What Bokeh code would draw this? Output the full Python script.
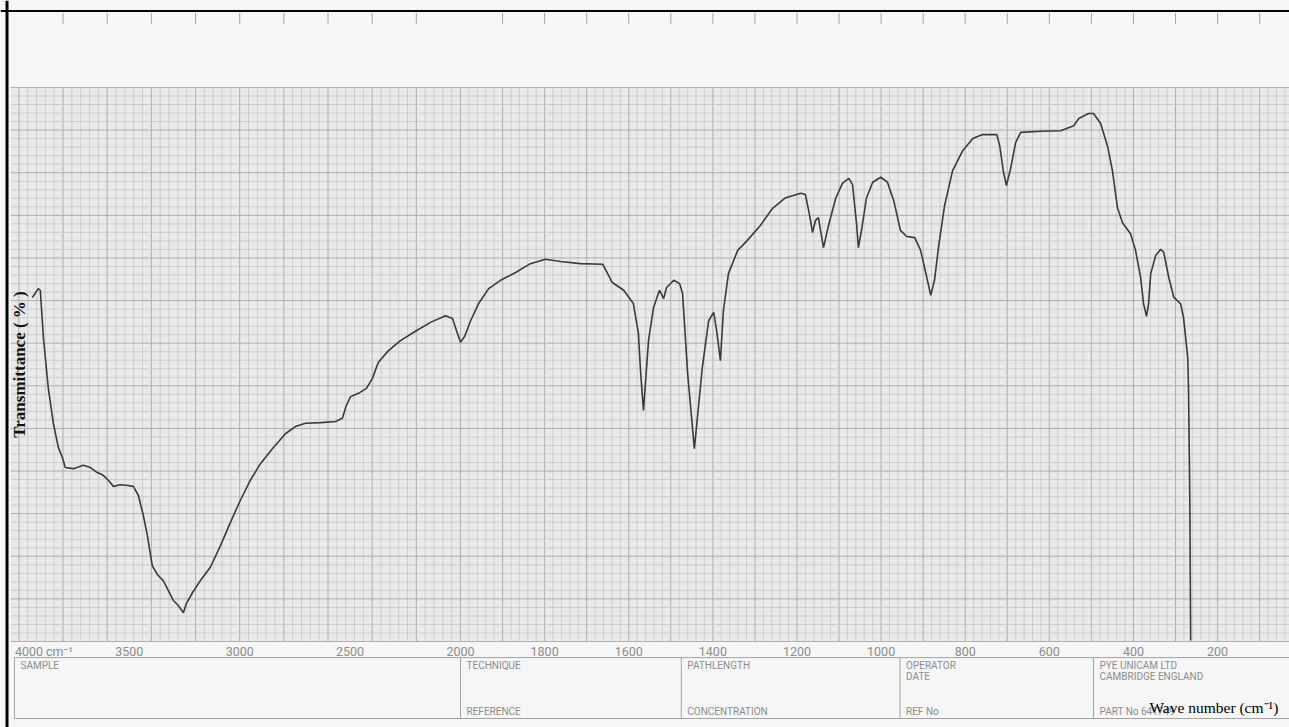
import numpy as np
from bokeh.plotting import figure
from bokeh.models import Range1d, Span
from bokeh.core.properties import value
from bokeh.embed import file_html
from bokeh.resources import INLINE

# ---------------- data ----------------
wavenumber = [3939, 3912, 3903, 3889, 3867, 3844, 3821, 3803, 3790, 3753,
              3708, 3676, 3645, 3618, 3595, 3572, 3541, 3513, 3482, 3459,
              3436, 3418, 3396, 3373, 3346, 3323, 3300, 3278, 3255, 3241,
              3214, 3178, 3133, 3087, 3042, 2997, 2952, 2906, 2852, 2793,
              2748, 2702, 2634, 2566, 2535, 2517, 2498, 2462, 2426, 2399,
              2372, 2326, 2272, 2204, 2136, 2068, 2036, 2018, 2000, 1990,
              1976, 1957, 1933, 1905, 1869, 1834, 1798, 1762, 1715, 1662,
              1639, 1612, 1589, 1577, 1572, 1565, 1553, 1541, 1527, 1517,
              1510, 1493, 1479, 1472, 1460, 1444, 1425, 1410, 1398, 1391,
              1382, 1375, 1363, 1341, 1318, 1287, 1258, 1227, 1191, 1180,
              1170, 1163, 1156, 1149, 1144, 1137, 1125, 1108, 1092, 1077,
              1068, 1058, 1054, 1046, 1035, 1020, 1001, 985, 970, 954,
              939, 920, 906, 894, 882, 873, 863, 849, 830, 806,
              782, 759, 725, 718, 709, 702, 692, 680, 668, 621,
              573, 542, 530, 507, 495, 478, 461, 450, 438, 426,
              407, 395, 383, 376, 369, 364, 359, 347, 335, 328,
              316, 304, 288, 281, 271, 269, 266, 264]
transmittance = [62.1, 63.7, 63.4, 54.9, 45.8, 39.4, 35.0, 33.2, 31.4, 31.2,
                 31.8, 31.4, 30.5, 30.0, 29.1, 28.0, 28.3, 28.2, 28.0, 26.4,
                 22.7, 19.1, 13.7, 12.1, 11.0, 9.2, 7.4, 6.5, 5.2, 6.9,
                 8.8, 11.0, 13.4, 17.3, 21.5, 25.5, 29.1, 32.1, 34.8, 37.5,
                 38.8, 39.4, 39.5, 39.7, 40.3, 42.6, 44.2, 44.8, 45.7, 47.5,
                 50.4, 52.5, 54.3, 56.0, 57.6, 58.8, 58.3, 56.1, 54.0, 55.1,
                 57.9, 61.0, 63.7, 65.2, 66.6, 68.2, 69.0, 68.6, 68.2, 68.1,
                 64.8, 63.4, 61.0, 55.6, 48.9, 41.7, 54.3, 60.3, 63.4, 61.9,
                 63.9, 65.2, 64.6, 62.8, 48.4, 34.8, 49.5, 57.9, 59.4, 56.1,
                 50.7, 59.7, 66.4, 70.6, 72.4, 75.1, 78.2, 80.1, 80.9, 80.7,
                 76.9, 73.8, 76.0, 76.5, 74.2, 71.1, 75.1, 80.0, 82.7, 83.6,
                 82.5, 75.1, 71.1, 74.5, 80.0, 82.9, 83.8, 82.9, 79.6, 74.2,
                 73.1, 72.9, 70.6, 66.6, 62.5, 65.2, 71.5, 78.7, 85.0, 88.6,
                 90.8, 91.5, 91.5, 89.5, 84.7, 82.3, 85.4, 90.1, 91.9, 92.1,
                 92.2, 93.1, 94.4, 95.3, 95.3, 93.5, 89.2, 85.0, 78.3, 75.6,
                 73.6, 70.6, 65.7, 61.0, 58.7, 61.0, 66.4, 69.7, 70.8, 70.2,
                 65.7, 62.1, 61.0, 58.5, 51.3, 45.3, 25.5, 0.2]

tick_values = [4000, 3500, 3000, 2500, 2000, 1800, 1600, 1400, 1200, 1000, 800, 600, 400, 200]
tick_labels = ["4000 cm\u207b\u00b9", "3500", "3000", "2500", "2000", "1800", "1600",
               "1400", "1200", "1000", "800", "600", "400", "200"]

# chart paper: 4000-2000 cm-1 is printed at a compressed scale
HI_FACTOR = 0.525
BREAK = 2000


def paper_x(wn):
    wn = np.asarray(wn, dtype=float)
    return np.where(wn >= BREAK, (4000 - wn) * HI_FACTOR,
                    (4000 - BREAK) * HI_FACTOR + (BREAK - wn))


SERIF = value("Liberation Serif")
SANS = value("Roboto")
GRAY_TXT = "#8c8c8c"

p = figure(width=1289, height=727,
           x_range=Range1d(-43.7, 3021), y_range=Range1d(-15.52, 115.70),
           x_axis_location=None, y_axis_location=None,
           output_backend="svg", toolbar_location=None, min_border=0,
           background_fill_color="#f6f6f6", border_fill_color="#f6f6f6")
p.grid.visible = False
p.outline_line_color = None

# grid area background
gx0 = float(paper_x(4038))
gx1 = float(paper_x(-40))
p.quad(left=gx0, right=gx1, bottom=0, top=100, fill_color="#e9e9ea", line_color=None)

# vertical grid lines
hi_lines = np.arange(2040, 4001, 40)
lo_lines = np.arange(0, 2001, 20)
v_all = np.concatenate([hi_lines, lo_lines])
major_mask = np.concatenate([hi_lines % 200 == 0, lo_lines % 100 == 0])
vx = paper_x(v_all)
p.segment(x0=vx[~major_mask], y0=0, x1=vx[~major_mask], y1=100,
          line_color="#c3c3c5", line_width=0.7)
p.segment(x0=vx[major_mask], y0=0, x1=vx[major_mask], y1=100,
          line_color="#a8a8aa", line_width=0.9)
# horizontal grid lines
h_all = np.linspace(0, 100, 66)
h_major = (np.arange(66) % 5 == 0)
p.segment(x0=gx0, y0=h_all[~h_major], x1=gx1, y1=h_all[~h_major],
          line_color="#c3c3c5", line_width=0.7)
p.segment(x0=gx0, y0=h_all[h_major], x1=gx1, y1=h_all[h_major],
          line_color="#a8a8aa", line_width=0.9)

# small marks at top of the paper
top_marks = np.concatenate([np.arange(2200, 4000, 200), np.arange(100, 2000, 100)])
tmx = paper_x(top_marks)
p.segment(x0=tmx, y0=111.4, x1=tmx, y1=113.5, line_color="#a6a6a6", line_width=1)

# the spectrum
p.line(x=paper_x(wavenumber), y=transmittance, line_color="#3a3a3a", line_width=1.6)

# wavenumber labels printed on the paper
tx = paper_x(tick_values)
p.text(x=tx[1:], y=-1.85, text=tick_labels[1:], text_align="center", text_baseline="middle",
       text_font=SANS, text_font_size="12.5px", text_color=GRAY_TXT)
p.text(x=[tx[0]], y=[-1.85], text=[tick_labels[0]], text_align="left", text_baseline="middle",
       x_offset=-4, text_font=SANS, text_font_size="12.5px", text_color=GRAY_TXT)

# printed form at the bottom
form_edges = [4020, 2000, 1475, 955, 495]
fx = paper_x(form_edges)
p.segment(x0=fx[0], y0=-2.9, x1=gx1, y1=-2.9, line_color="#a3a3a3", line_width=1)
p.segment(x0=fx[0], y0=-13.9, x1=gx1, y1=-13.9, line_color="#a3a3a3", line_width=1)
p.segment(x0=fx, y0=-2.9, x1=fx, y1=-13.9, line_color="#a3a3a3", line_width=1)

form_top = ["SAMPLE", "TECHNIQUE", "PATHLENGTH", "OPERATOR", "PYE UNICAM LTD"]
form_mid = ["", "", "", "DATE", "CAMBRIDGE ENGLAND"]
form_bot = ["", "REFERENCE", "CONCENTRATION", "REF  No", "PART No 641749"]
p.text(x=fx, y=-4.25, text=form_top, x_offset=6, text_baseline="middle",
       text_font=SANS, text_font_size="10px", text_color=GRAY_TXT)
p.text(x=fx, y=-6.4, text=form_mid, x_offset=6, text_baseline="middle",
       text_font=SANS, text_font_size="10px", text_color=GRAY_TXT)
p.text(x=fx, y=-12.6, text=form_bot, x_offset=6, text_baseline="middle",
       text_font=SANS, text_font_size="10px", text_color=GRAY_TXT)

# axis titles
p.text(x=paper_x([3995]), y=[50.0], text=["Transmittance ( % )"], angle=np.pi / 2,
       text_align="center", text_baseline="middle", text_font=SERIF,
       text_font_style="bold", text_font_size="17px", text_color="#111111")
p.text(x=paper_x([362]), y=[-11.9], text=["Wave number (cm\u207b\u00b9)"],
       text_align="left", text_baseline="middle", text_font=SERIF,
       text_font_size="15.5px", text_color="#000000")

# scan frame
p.add_layout(Span(location=-28.2, dimension="height", line_color="black", line_width=3))
p.add_layout(Span(location=113.8, dimension="width", line_color="black", line_width=2))

open("out.html", "w").write(file_html(p, INLINE))
